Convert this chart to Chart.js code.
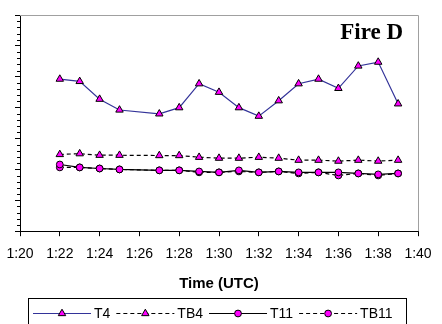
<!DOCTYPE html>
<html>
<head>
<meta charset="utf-8">
<script src="https://cdn.jsdelivr.net/npm/chart.js@4/dist/chart.umd.min.js"></script>
<style>
    html, body { margin: 0; padding: 0; background: #fff; }
    #wrap { width: 442px; height: 324px; }
</style>
</head>
<body>
<div id="wrap"><canvas id="chart" width="442" height="324"></canvas></div>
<script>
// values (y axis unlabelled, so an arbitrary temperature-like scale)
const times = ["1:22", "1:23", "1:24", "1:25", "1:27", "1:28", "1:29", "1:30", "1:31",
               "1:32", "1:33", "1:34", "1:35", "1:36", "1:37", "1:38", "1:39"];
const t4   = [358.5, 357, 345.5, 338.5, 336, 340, 355.5, 350, 340, 334.5, 344.5, 355.5, 358.5, 352.5, 367, 369.5, 342.5];
const tb4  = [309.7, 310.2, 309.2, 309.2, 309.0, 309.0, 307.9, 307.3, 307.3, 307.9, 307.3, 306.0, 306.0, 305.4, 306.0, 305.4, 306.0];
const t11  = [303.2, 301.3, 300.6, 300.0, 299.4, 299.4, 298.7, 298.1, 299.4, 298.1, 298.7, 298.1, 298.1, 298.1, 297.4, 296.8, 297.4];
const tb11 = [301.3, 301.3, 300.6, 300.0, 299.4, 299.4, 298.1, 298.1, 298.7, 298.1, 298.7, 297.4, 298.1, 296.1, 297.4, 296.1, 297.4];
const seriesNames = ["T4", "TB4", "T11", "TB11"];
const xStart = "1:20", xEnd = "1:40", xStep = 2;
const yMin = 260, yMax = 400, yStep = 20, yMinorStep = 4;
const chartTitle = "Fire D";
const xTitle = "Time (UTC)";

function toMin(t) {
    const p = t.split(":");
    return parseInt(p[0]) * 60 + parseInt(p[1]);
}
function fmtMin(m) {
    const mm = m % 60;
    return Math.floor(m / 60) + ":" + (mm < 10 ? "0" : "") + mm;
}
function pts(values) {
    return times.map((t, i) => ({ x: toMin(t), y: values[i] }));
}

const magenta = "#ff00ff";
function series(label, values, color, dash, shape, r) {
    return {
        label: label,
        data: pts(values),
        borderColor: color,
        borderWidth: 1.2,
        borderDash: dash,
        pointStyle: shape,
        pointRadius: r,
        pointHoverRadius: r,
        pointBackgroundColor: magenta,
        pointBorderColor: "#000",
        pointBorderWidth: 1,
        fill: false,
        tension: 0
    };
}

const extras = {
    id: "extras",
    afterDraw(chart) {
        const { ctx, chartArea: a, scales: { y } } = chart;
        ctx.save();
        // grey plot border top and right
        ctx.strokeStyle = "#a0a0a0";
        ctx.lineWidth = 1;
        ctx.beginPath();
        ctx.moveTo(a.left, Math.round(a.top) + 0.5);
        ctx.lineTo(Math.round(a.right) + 0.5, Math.round(a.top) + 0.5);
        ctx.lineTo(Math.round(a.right) + 0.5, a.bottom);
        ctx.stroke();

        // minor ticks on the y axis
        ctx.strokeStyle = "#000";
        ctx.beginPath();
        for (let v = yMin + yMinorStep; v < yMax; v += yMinorStep) {
            if (v % yStep === 0) continue;
            const py = Math.round(y.getPixelForValue(v)) + 0.5;
            ctx.moveTo(a.left - 3, py);
            ctx.lineTo(a.left, py);
        }
        ctx.stroke();

        // title inside the plot
        ctx.fillStyle = "#000";
        ctx.font = 'bold 23px "Liberation Serif", "Times New Roman", serif';
        ctx.textAlign = "right";
        ctx.textBaseline = "alphabetic";
        ctx.fillText(chartTitle, a.right - 15, a.top + 24);

        // legend box
        ctx.strokeStyle = "#000";
        ctx.lineWidth = 1;
        ctx.strokeRect(28.5, 298.5, 378, 30);
        ctx.font = '14px "Liberation Sans", Arial, sans-serif';
        ctx.textAlign = "left";
        ctx.textBaseline = "middle";
        const ly = 313.5;
        let lx = 33;
        chart.data.datasets.forEach(ds => {
            ctx.save();
            ctx.strokeStyle = ds.borderColor;
            ctx.lineWidth = ds.borderWidth;
            ctx.setLineDash(ds.borderDash || []);
            ctx.beginPath();
            ctx.moveTo(lx, ly);
            ctx.lineTo(lx + 58, ly);
            ctx.stroke();
            ctx.restore();
            ctx.fillStyle = magenta;
            ctx.strokeStyle = "#000";
            ctx.lineWidth = 1;
            Chart.helpers.drawPoint(ctx, { pointStyle: ds.pointStyle, radius: ds.pointRadius, borderWidth: 1 }, lx + 29, ly);
            ctx.fillStyle = "#000";
            ctx.fillText(ds.label, lx + 61, ly + 1);
            lx += 61 + ctx.measureText(ds.label).width + 6;
        });
        ctx.restore();
    }
};

new Chart(document.getElementById("chart"), {
    type: "line",
    data: {
        datasets: [
            series(seriesNames[0], t4, "#333399", [], "triangle", 4.3),
            series(seriesNames[1], tb4, "#000", [4, 3], "triangle", 4.3),
            series(seriesNames[2], t11, "#000", [], "circle", 3.4),
            series(seriesNames[3], tb11, "#000", [4, 3], "circle", 3.4)
        ]
    },
    options: {
        responsive: false,
        animation: false,
        devicePixelRatio: 1,
        layout: { padding: { top: 15, right: 24, bottom: 31, left: 0 } },
        plugins: {
            legend: { display: false },
            tooltip: { enabled: false }
        },
        scales: {
            x: {
                type: "linear",
                min: toMin(xStart),
                max: toMin(xEnd),
                ticks: {
                    stepSize: xStep,
                    color: "#000",
                    padding: 10,
                    maxRotation: 0,
                    font: { family: '"Liberation Sans", Arial, sans-serif', size: 14 },
                    callback: v => fmtMin(v)
                },
                grid: { drawOnChartArea: false, drawTicks: true, tickLength: 5, color: "#000" },
                border: { display: true, color: "#000", width: 1 },
                title: {
                    display: true,
                    text: xTitle,
                    color: "#000",
                    padding: { top: 2, bottom: 0 },
                    font: { family: '"Liberation Sans", Arial, sans-serif', size: 15, weight: "bold" }
                },
                afterFit(scale) { scale.paddingLeft = 0; scale.paddingRight = 0; }
            },
            y: {
                min: yMin,
                max: yMax,
                ticks: { display: false, stepSize: yStep },
                grid: { drawOnChartArea: false, drawTicks: true, tickLength: 5, color: "#000" },
                border: { display: true, color: "#000", width: 1 },
                afterFit(scale) { scale.width = 20; }
            }
        }
    },
    plugins: [extras]
});
</script>
</body>
</html>
